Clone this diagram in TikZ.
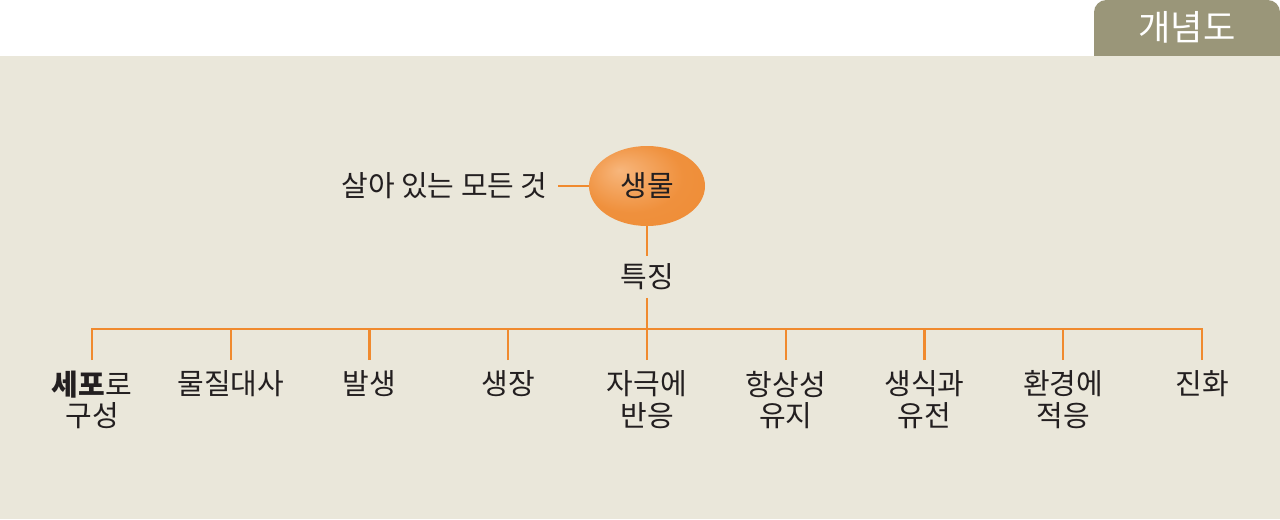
\documentclass[tikz,border=0pt]{standalone}
\usepackage{fontspec}
\setmainfont{Noto Sans CJK KR}
\usetikzlibrary{shapes.geometric, positioning}
\definecolor{paper}{HTML}{EAE7DA}
\definecolor{tabgray}{HTML}{9A9679}
\definecolor{lineorng}{HTML}{F08A2E}
\definecolor{bioorng}{HTML}{EE8A32}
\definecolor{biolight}{HTML}{F7B67C}
\definecolor{inkblack}{HTML}{231F20}
\pgfdeclareradialshading{bioglow}{\pgfpoint{-12bp}{10bp}}{%
  color(0bp)=(biolight); color(22bp)=(bioorng!85!biolight);
  color(45bp)=(bioorng); color(50bp)=(bioorng)}

\begin{document}
\begin{tikzpicture}[
  link/.style={lineorng, line width=1.3pt},
  trait/.style={font=\fontsize{16.5}{17.8}\selectfont, text=inkblack,
    align=center, anchor=north, inner sep=6pt},
]

\useasboundingbox (0,0) rectangle (25.6,10.38);

% Background
\fill[white] (0,0) rectangle (25.6,10.38);
\fill[tabgray, rounded corners=7pt] (21.88,8.9) rectangle (25.6,10.38);
\fill[paper] (0,0) rectangle (25.6,9.26);

% Tab
\node[font=\fontsize{20}{24}\selectfont, text=white] (tab) at (23.74,9.84) {개념도};

% =============================================
% Top: 생물
% =============================================
\node[ellipse, shading=bioglow, minimum width=2.32cm, minimum height=1.6cm,
      inner sep=0pt, font=\fontsize{16.5}{19}\selectfont, text=inkblack]
  (bio) at (12.94,6.66) {생물};

\node[font=\fontsize{16.5}{19}\selectfont, text=inkblack, anchor=east, inner sep=0.2cm]
  (life) at (11.16,6.66) {살아 있는 모든 것};

\draw[link] (life.east) -- (bio.west);

% 특징
\node[font=\fontsize{16.5}{19}\selectfont, text=inkblack, minimum height=0.82cm, inner sep=0pt]
  (feat) at (12.94,4.84) {특징};

\draw[link] (bio.south) -- (feat.north);

% Bus
\coordinate (bus-l) at (1.84,3.8);
\coordinate (bus-r) at (24.04,3.8);
\coordinate (bus-c) at (12.94,3.8);
\draw[link] (feat.south) -- (bus-c);
\draw[link, line cap=rect] (bus-l) -- (bus-r);

% =============================================
% Bottom: traits
% =============================================
\node[trait] (cell)  at (1.84,3.18)   {\textbf{세포}로\\구성};
\node[trait] (meta)  at (4.615,3.18)  {물질대사};
\node[trait] (dev)   at (7.39,3.18)   {발생};
\node[trait] (grow)  at (10.165,3.18) {생장};
\node[trait] (resp)  at (12.94,3.18)  {자극에\\반응};
\node[trait] (homeo) at (15.715,3.18) {항상성\\유지};
\node[trait] (repro) at (18.49,3.18)  {생식과\\유전};
\node[trait] (adapt) at (21.265,3.18) {환경에\\적응};
\node[trait] (evo)   at (24.04,3.18)  {진화};

% Drops
\draw[link] (cell.north)  -- (cell.north |- bus-c);
\draw[link] (meta.north)  -- (meta.north |- bus-c);
\draw[link] (dev.north)   -- (dev.north |- bus-c);
\draw[link] (grow.north)  -- (grow.north |- bus-c);
\draw[link] (resp.north)  -- (resp.north |- bus-c);
\draw[link] (homeo.north) -- (homeo.north |- bus-c);
\draw[link] (repro.north) -- (repro.north |- bus-c);
\draw[link] (adapt.north) -- (adapt.north |- bus-c);
\draw[link] (evo.north)   -- (evo.north |- bus-c);

\end{tikzpicture}
\end{document}
